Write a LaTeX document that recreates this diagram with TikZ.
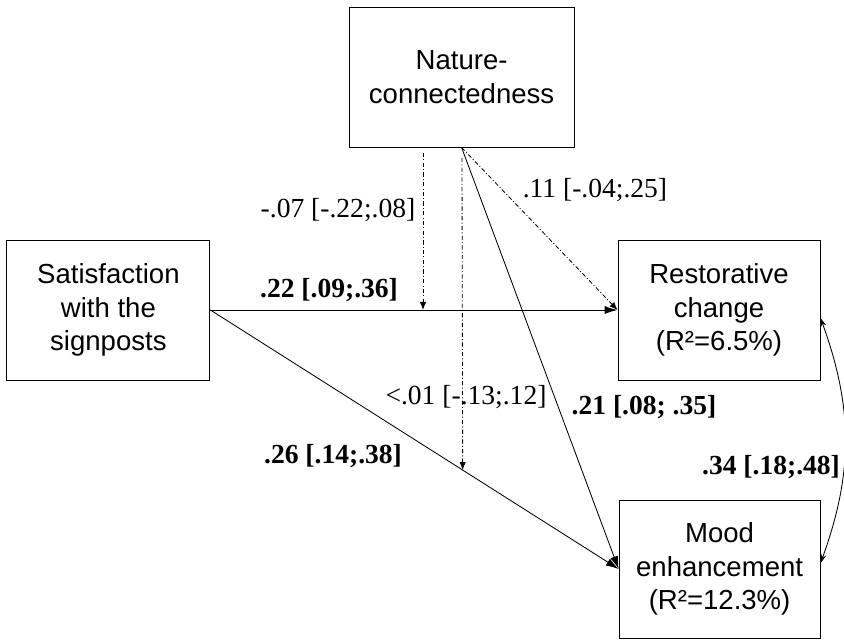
\documentclass[tikz,border=0pt]{standalone}
\usepackage{fontspec}
\setmainfont{Liberation Serif}
\newfontfamily\boxfont{Liberation Sans}
\usetikzlibrary{arrows.meta}

\tikzset{
  varbox/.style={draw, line width=0.7pt, align=center, inner sep=0pt,
    font=\boxfont\fontsize{19.6}{24}\selectfont},
  coef/.style={inner sep=0pt, font=\fontsize{19.6}{24}\selectfont},
  bcoef/.style={coef, font=\fontsize{19.6}{24}\selectfont\bfseries},
  path/.style={line width=0.6pt, -{Latex[length=0.32cm,width=0.2cm]}},
  modpath/.style={line width=0.6pt, dash pattern=on 3pt off 1.6pt on 0.7pt off 1.6pt,
    -{Latex[length=0.2cm,width=0.16cm]}}
}

\begin{document}
\begin{tikzpicture}

\useasboundingbox (0,0) rectangle (21.1,-16);

\node at (11.54,-1.925) [varbox, minimum width=5.625cm, minimum height=3.5cm] (NC) {Nature-\\connectedness};
\node at (2.71,-7.75) [varbox, minimum width=5.075cm, minimum height=3.5cm] (SS) {Satisfaction\\with the\\signposts};
\node at (17.975,-7.75) [varbox, minimum width=5.05cm, minimum height=3.5cm] (RC) {Restorative\\change\\(R²=6.5\%)};
\node at (17.99,-14.225) [varbox, minimum width=5.025cm, minimum height=3.45cm] (ME) {Mood\\enhancement\\(R²=12.3\%)};

\draw[path] (SS.east) -- (RC.west);
\draw[path] (SS.east) -- (ME.west);
\draw[path] (NC.south) -- (ME.west);
\draw[modpath] (NC.south) -- (RC.west);

\coordinate (M1) at (10.575,-3.825);
\coordinate (M2) at (11.55,-3.95);
\path (SS.east) -- (ME.west) coordinate[pos=0.618] (M2E);
\draw[modpath] (M1) -- (M1 |- SS.east);
\draw[modpath] (M2) -- (M2E);

\draw[line width=0.6pt, {Stealth[length=0.22cm,width=0.14cm]}-{Stealth[length=0.22cm,width=0.14cm]}]
  ([yshift=-0.2cm]RC.east) to[bend left=20] ([yshift=0.15cm]ME.east);

\node at (8.45,-5.25) [coef] (L07) {-.07 [-.22;.08]};
\node at (14.875,-4.75) [coef] (L11) {.11 [-.04;.25]};
\node at (8.225,-7.25) [bcoef] (L22) {.22 [.09;.36]};
\node at (11.65,-9.925) [coef] (L01) {<.01 [-.13;.12]};
\node at (16.1,-10.175) [bcoef] (L21) {.21 [.08; .35]};
\node at (8.325,-11.4) [bcoef] (L26) {.26 [.14;.38]};
\node at (19.275,-11.675) [bcoef] (L34) {.34 [.18;.48]};

\end{tikzpicture}
\end{document}
